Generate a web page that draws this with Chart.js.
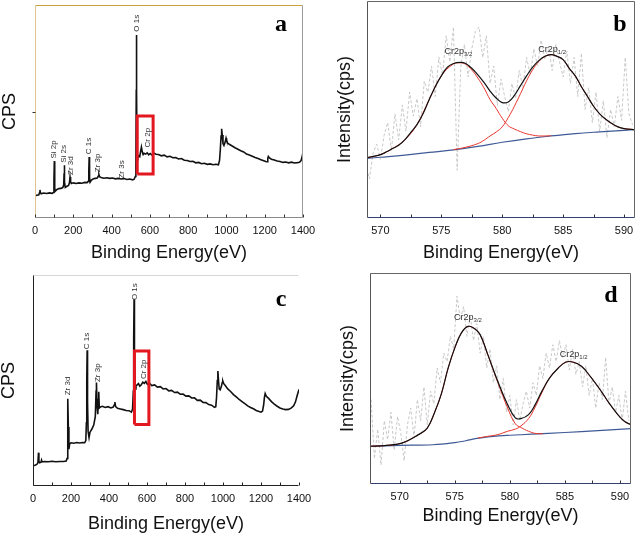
<!DOCTYPE html>
<html>
<head>
<meta charset="utf-8">
<script src="https://cdn.jsdelivr.net/npm/chart.js@4.4.0/dist/chart.umd.min.js"></script>
<style>
body { margin: 0; background: #fff; }
#wrap { position: relative; width: 638px; height: 535px; }
canvas { position: absolute; }
</style>
</head>
<body>
<div id="wrap">
  <canvas id="chartA" width="318" height="268" style="left:0;top:0"></canvas>
  <canvas id="chartB" width="320" height="268" style="left:318px;top:0"></canvas>
  <canvas id="chartC" width="318" height="267" style="left:0;top:268px"></canvas>
  <canvas id="chartD" width="320" height="267" style="left:318px;top:268px"></canvas>
</div>
<script>
// ---- panel a : survey spectrum ----
const surveyA_eV = [
  0, 10, 20, 24, 26, 28, 32, 45, 60, 75,
  90, 97, 99, 101, 103, 106, 115, 125, 135, 145,
  150, 152, 153, 155, 158, 165, 175, 180, 183, 186,
  190, 200, 215, 230, 245, 260, 272, 278, 281, 283,
  285, 288, 295, 305, 315, 325, 332, 334, 337, 345,
  360, 375, 390, 405, 420, 435, 450, 465, 480, 495,
  510, 518, 524, 527, 529, 530, 531, 533, 537, 542,
  547, 552, 556, 560, 565, 570, 578, 586, 594, 602,
  610, 620, 632, 645, 660, 675, 690, 705, 720, 735,
  750, 765, 780, 795, 810, 825, 840, 855, 870, 885,
  900, 915, 930, 945, 958, 964, 968, 972, 975, 978,
  982, 987, 993, 998, 1001, 1006, 1015, 1030, 1045, 1060,
  1075, 1090, 1105, 1120, 1135, 1150, 1165, 1180, 1195, 1205,
  1212, 1216, 1219, 1225, 1235, 1250, 1265, 1280, 1295, 1310,
  1325, 1340, 1355, 1370, 1382, 1390, 1395, 1400
];
const surveyA_cps = [
  10.5, 10.7, 10.9, 12.0, 13.2, 12.0, 11.4, 11.7, 11.5, 11.8,
  11.6, 12.0, 18.0, 26.7, 14.0, 12.6, 13.4, 13.8, 13.9, 14.3,
  15.5, 21.0, 24.8, 17.0, 14.4, 14.8, 15.3, 16.5, 19.2, 17.0,
  16.2, 16.5, 16.2, 16.5, 16.3, 16.7, 16.6, 17.2, 22.0, 28.6,
  19.0, 16.8, 17.8, 18.4, 18.6, 18.8, 19.8, 20.4, 19.4, 19.0,
  18.7, 18.9, 18.6, 18.8, 18.4, 18.6, 18.3, 18.5, 18.1, 18.3,
  17.9, 18.2, 19.5, 23.0, 60.0, 85.9, 60.0, 29.5, 28.6, 29.2,
  28.8, 31.5, 33.3, 31.2, 29.8, 30.4, 30.0, 30.6, 29.7, 30.3,
  29.6, 30.5, 29.9, 29.8, 29.2, 29.5, 28.7, 29.0, 28.3, 28.4,
  27.7, 27.9, 27.1, 27.0, 26.5, 26.6, 25.9, 26.1, 25.5, 25.7,
  25.2, 25.4, 25.0, 25.2, 25.0, 27.0, 32.0, 38.5, 41.9, 39.0,
  34.9, 34.0, 35.5, 37.5, 36.5, 35.2, 34.6, 33.8, 33.0, 32.3,
  31.6, 31.0, 30.0, 29.6, 29.0, 28.4, 27.9, 27.4, 26.9, 26.5,
  26.4, 28.0, 28.9, 28.2, 27.6, 27.2, 26.8, 26.5, 26.1, 26.3,
  25.9, 26.2, 25.8, 26.0, 26.2, 27.0, 28.5, 30.9
];
const boxA_eV = [534, 617, 617, 534, 534];
const boxA_cps = [20.7, 20.7, 47.9, 47.9, 20.7];
const peakNamesA = ['O 1s', 'Si 2p', 'Si 2s', 'Zr 3d', 'C 1s', 'Zr 3p', 'Zr 3s', 'Cr 2p'];
const peakEvA = [530, 96, 148, 186, 283, 330, 452, 590];
const peakCpsA = [91.4, 32.2, 30.1, 24.6, 33.8, 25.9, 22.8, 37.7];

// ---- panel c : survey spectrum ----
const surveyC_eV = [
  0, 10, 20, 26, 29, 31, 35, 42, 45, 48,
  60, 80, 100, 120, 140, 160, 175, 179, 182, 184,
  186, 189, 193, 200, 215, 230, 245, 260, 272, 278,
  281, 283, 285, 287, 290, 295, 300, 310, 320, 328,
  332, 334, 337, 341, 344, 346, 349, 355, 365, 380,
  395, 410, 422, 428, 431, 435, 445, 460, 475, 490,
  505, 518, 524, 528, 530, 532, 534, 537, 542, 548,
  555, 562, 570, 578, 586, 594, 602, 612, 625, 640,
  655, 670, 685, 700, 715, 730, 745, 760, 775, 790,
  805, 820, 835, 850, 865, 880, 895, 910, 925, 940,
  955, 962, 966, 970, 973, 976, 980, 985, 991, 996,
  999, 1004, 1012, 1025, 1040, 1055, 1070, 1085, 1100, 1115,
  1130, 1145, 1160, 1175, 1190, 1200, 1208, 1214, 1218, 1222,
  1228, 1240, 1255, 1270, 1285, 1300, 1315, 1330, 1345, 1360,
  1372, 1382, 1390, 1396, 1400
];
const surveyC_cps = [
  9.5, 9.8, 10.2, 11.0, 15.8, 11.5, 11.0, 11.3, 12.3, 11.4,
  11.6, 11.5, 11.7, 11.5, 11.6, 11.6, 11.8, 13.0, 30.0, 41.4,
  28.0, 17.5, 20.0, 20.5, 20.3, 20.6, 20.4, 20.6, 20.5, 21.5,
  30.0, 50.0, 64.3, 40.0, 26.0, 23.0, 25.5, 27.0, 29.0, 33.0,
  45.0, 49.0, 38.0, 34.0, 41.0, 44.7, 37.0, 37.5, 37.8, 37.2,
  37.6, 37.0, 37.4, 38.5, 39.8, 37.6, 36.8, 36.5, 36.2, 35.8,
  35.7, 35.0, 36.5, 45.0, 70.0, 88.5, 62.0, 46.0, 47.5, 47.9,
  48.5, 47.3, 48.0, 49.2, 48.6, 49.5, 48.2, 48.8, 47.6, 47.9,
  46.9, 47.1, 46.0, 46.2, 45.1, 45.3, 44.3, 44.5, 43.5, 43.6,
  42.6, 42.7, 41.7, 41.8, 40.6, 40.7, 39.6, 39.5, 38.6, 38.3,
  37.3, 37.6, 42.0, 50.0, 54.5, 50.5, 46.0, 45.6, 47.0, 49.0,
  49.8, 48.5, 47.6, 46.0, 44.8, 43.3, 42.2, 41.0, 40.0, 39.0,
  38.0, 37.2, 36.6, 35.8, 35.3, 35.0, 35.5, 38.5, 42.0, 43.8,
  42.5, 41.5, 40.0, 38.8, 37.8, 37.0, 36.5, 36.2, 36.3, 37.0,
  38.0, 40.0, 42.8, 44.5, 45.8
];
const boxC_eV = [534, 610, 610, 534, 534];
const boxC_cps = [29.2, 29.2, 64.0, 64.0, 29.2];
const peakNamesC = ['O 1s', 'C 1s', 'Zr 3p', 'Zr 3d', 'Cr 2p'];
const peakEvC = [536, 284, 339, 184, 583];
const peakCpsC = [92.1, 68.7, 53.7, 47.4, 55.3];

const surveyTicks = [0, 100, 200, 300, 400, 500, 600, 700, 800, 900, 1000, 1100, 1200, 1300, 1400];

// ---- panel b : Cr 2p fit ----
const rawB_eV = [
  568.8, 569.1, 569.4, 569.7, 570.0, 570.3, 570.6, 570.9, 571.2, 571.5,
  571.8, 572.1, 572.4, 572.7, 573.0, 573.3, 573.6, 573.9, 574.2, 574.5,
  574.8, 575.1, 575.4, 575.7, 576.0, 576.3, 576.6, 576.9, 577.2, 577.5,
  577.8, 578.1, 578.4, 578.7, 579.0, 579.3, 579.6, 579.9, 580.2, 580.5,
  580.8, 581.1, 581.4, 581.7, 582.0, 582.3, 582.6, 582.9, 583.2, 583.5,
  583.8, 584.1, 584.4, 584.7, 585.0, 585.3, 585.6, 585.9, 586.2, 586.5,
  586.8, 587.1, 587.4, 587.7, 588.0, 588.3, 588.6, 588.9, 589.2, 589.5,
  589.8, 590.1, 590.4, 590.7
];
const rawB = [
  25, 18, 30, 34, 27, 38, 44, 31, 48, 36,
  52, 40, 58, 47, 55, 42, 63, 58, 70, 56,
  74, 66, 84, 72, 88, 22, 70, 80, 65, 78,
  86, 88, 74, 84, 62, 70, 52, 64, 56, 49,
  62, 55, 68, 60, 74, 66, 78, 70, 82, 73,
  79, 68, 80, 72, 65, 77, 62, 74, 56, 76,
  50, 60, 44, 58, 40, 54, 37, 50, 42, 56,
  45, 74, 48, 43
];
const envB_eV = [568.55, 569.5, 570, 570.5, 571, 571.5, 572, 572.5, 573, 573.5, 574, 574.5, 575, 575.5, 576, 576.6, 577, 577.5, 578, 578.5, 579, 579.5, 580, 580.5, 581, 581.5, 582, 582.5, 583, 583.5, 584, 584.5, 585, 585.5, 586, 586.5, 587, 587.5, 588, 588.5, 589, 589.5, 590, 590.95];
const envB = [27.5, 28.5, 29.2, 30.5, 32, 33.5, 36, 39.5, 43, 48, 54.5, 60.5, 65.5, 69.5, 71.2, 71.7, 71.2, 69, 66, 62.5, 58.5, 55.3, 53.2, 53.5, 56.5, 61, 65.5, 69.5, 72.5, 74.5, 75.3, 74.5, 73, 69, 65.5, 60.5, 56, 51.5, 48, 45.5, 43.5, 42, 41.2, 40.7];
const p32B_eV = [568.55, 570, 571, 572, 573, 574, 575, 576, 576.6, 577, 577.5, 578, 578.5, 579, 579.5, 580, 580.5, 581, 581.5, 582, 582.5, 583, 584];
const p32B = [27.3, 29.2, 32, 36, 43, 54.5, 65.5, 71.0, 71.5, 70.8, 68.2, 64.5, 60, 54.6, 50.5, 46, 42.5, 41, 39.8, 38.8, 38.2, 37.8, 37.9];
const p12B_eV = [576, 577, 578, 578.5, 579, 579.5, 580, 580.5, 581, 581.5, 582, 582.5, 583, 583.5, 584, 584.5, 585, 585.5, 586, 586.5, 587, 587.5, 588, 588.5, 589, 589.5, 590, 590.95];
const p12B = [31.5, 32.6, 34.3, 35.8, 37.8, 39.6, 42, 46.3, 51.5, 57.3, 63.2, 68.3, 72.1, 74.4, 75.3, 74.5, 72.8, 69, 65.3, 60.5, 56, 51.5, 48, 45.5, 43.5, 42, 41.2, 40.7];
const bgB_eV = [568.55, 570, 572, 574, 576, 578, 580, 582, 584, 586, 588, 590, 590.95];
const bgB = [27.3, 28.0, 29.0, 30.2, 31.4, 33.0, 34.9, 36.5, 37.8, 38.9, 39.7, 40.4, 40.7];
const ticksB = [570, 572.5, 575, 577.5, 580, 582.5, 585, 587.5, 590];

// ---- panel d : Cr 2p fit ----
const rawD_eV = [
  567.4, 567.7, 568.0, 568.3, 568.6, 568.9, 569.2, 569.5, 569.8, 570.1,
  570.4, 570.7, 571.0, 571.3, 571.6, 571.9, 572.2, 572.5, 572.8, 573.1,
  573.4, 573.7, 574.0, 574.3, 574.6, 574.9, 575.2, 575.5, 575.8, 576.1,
  576.4, 576.7, 577.0, 577.3, 577.6, 577.9, 578.2, 578.5, 578.8, 579.1,
  579.4, 579.7, 580.0, 580.3, 580.6, 580.9, 581.2, 581.5, 581.8, 582.1,
  582.4, 582.7, 583.0, 583.3, 583.6, 583.9, 584.2, 584.5, 584.8, 585.1,
  585.4, 585.7, 586.0, 586.3, 586.6, 586.9, 587.2, 587.5, 587.8, 588.1,
  588.4, 588.7, 589.0, 589.3, 589.6, 589.9, 590.2, 590.5, 590.8
];
const rawD = [
  40, 12, 26, 9, 30, 21, 34, 16, 32, 24,
  11, 28, 36, 22, 40, 30, 46, 28, 44, 38,
  55, 48, 62, 58, 70, 64, 89, 78, 84, 70,
  80, 68, 76, 62, 70, 55, 64, 48, 56, 40,
  50, 34, 42, 28, 40, 30, 38, 44, 36, 48,
  42, 56, 50, 62, 55, 66, 58, 68, 60, 66,
  54, 64, 52, 58, 46, 56, 42, 50, 36, 48,
  40, 60, 38, 46, 34, 42, 30, 44, 30
];
const envD_eV = [567.3, 568.6, 570.2, 571.7, 572.5, 573.2, 573.8, 574.4, 575.0, 575.6, 576.2, 576.8, 577.3, 578.0, 578.9, 579.8, 580.5, 581.0, 581.7, 582.3, 582.9, 583.6, 584.4, 585.1, 585.7, 586.5, 587.3, 588.3, 589.0, 589.8, 590.4, 591.0];
const envD = [17.9, 18.2, 19.4, 23.4, 26.5, 34.4, 43.1, 55.0, 64.5, 71.6, 74.7, 73.6, 70.8, 61.3, 48.7, 37.6, 31.3, 31.0, 32.9, 37.6, 43.9, 50.2, 55.0, 57.8, 57.8, 55.8, 51.0, 43.9, 38.4, 32.9, 29.7, 28.1];
const p32D_eV = [567.3, 568.6, 570.2, 571.7, 572.5, 573.2, 573.8, 574.4, 575.0, 575.6, 576.2, 576.8, 577.3, 578.0, 578.9, 579.8, 580.5, 581.0, 581.7, 582.3, 583.0];
const p32D = [17.9, 18.2, 19.4, 23.4, 26.5, 34.4, 43.1, 55.0, 64.5, 71.6, 74.7, 73.6, 70.8, 61.2, 48.2, 36.0, 28.5, 26.8, 25.0, 24.0, 23.8];
const p12D_eV = [577.1, 578.0, 578.9, 579.8, 580.5, 581.0, 581.7, 582.3, 582.9, 583.6, 584.4, 585.1, 585.7, 586.5, 587.3, 588.3, 589.0, 589.8, 590.4, 591.0];
const p12D = [21.8, 22.6, 23.4, 25.0, 26.0, 27.5, 31.0, 36.5, 43.2, 50.2, 55.0, 57.8, 57.8, 55.8, 51.0, 43.9, 38.4, 32.9, 29.7, 28.1];
const bgD_eV = [567.3, 570, 573, 575, 576, 577, 578, 579, 580, 582, 585, 588, 591];
const bgD = [17.9, 18.3, 18.6, 19.6, 20.5, 21.6, 22.3, 22.8, 23.1, 23.6, 24.4, 25.3, 26.2];
const ticksD = [570, 572.5, 575, 577.5, 580, 582.5, 585, 587.5, 590];

function pts(xs, ys) {
    return xs.map((x, i) => ({ x: x, y: ys[i] }));
}

// frame lines round the plot area (one colour per side) and inward tick marks
const framePlugin = {
    id: 'frame',
    afterDatasetsDraw(chart, args, o) {
        const ctx = chart.ctx;
        const a = chart.chartArea;
        const l = Math.round(a.left) + 0.5, r = Math.round(a.right) - 0.5;
        const t = Math.round(a.top) + 0.5, b = Math.round(a.bottom) - 0.5;
        ctx.save();
        ctx.lineWidth = 1;
        const side = (c, x1, y1, x2, y2) => {
            if (!c) return;
            ctx.strokeStyle = c;
            ctx.beginPath(); ctx.moveTo(x1, y1); ctx.lineTo(x2, y2); ctx.stroke();
        };
        side(o.top, l, t, r, t);
        side(o.right, r, t, r, b);
        side(o.bottom, l, b, r, b);
        side(o.left, l, t, l, b);
        ctx.strokeStyle = o.tickColor;
        chart.scales.x.ticks.forEach(tk => {
            const px = Math.round(chart.scales.x.getPixelForValue(tk.value)) + 0.5;
            ctx.beginPath(); ctx.moveTo(px, b); ctx.lineTo(px, b - 3); ctx.stroke();
        });
        (o.yTicks || []).forEach(v => {
            const py = Math.round(chart.scales.y.getPixelForValue(v)) + 0.5;
            ctx.beginPath(); ctx.moveTo(l, py); ctx.lineTo(l - 3, py); ctx.stroke();
        });
        ctx.restore();
    }
};

// peak names and the panel letter
const notesPlugin = {
    id: 'notes',
    afterDatasetsDraw(chart, args, o) {
        const ctx = chart.ctx;
        const xs = chart.scales.x, ys = chart.scales.y;
        const a = chart.chartArea;
        ctx.save();
        ctx.fillStyle = '#333';
        ctx.textAlign = 'center';
        ctx.textBaseline = 'middle';
        (o.rotated || []).forEach(n => {
            ctx.save();
            ctx.translate(xs.getPixelForValue(n.x), ys.getPixelForValue(n.y));
            ctx.rotate(-Math.PI / 2);
            ctx.font = '8px "Liberation Sans", Arial, sans-serif';
            ctx.fillText(n.text, 0, 0);
            ctx.restore();
        });
        (o.subbed || []).forEach(n => {
            const px = xs.getPixelForValue(n.x), py = ys.getPixelForValue(n.y);
            ctx.textAlign = 'left';
            ctx.textBaseline = 'alphabetic';
            ctx.font = '9px "Liberation Sans", Arial, sans-serif';
            const w1 = ctx.measureText(n.text).width;
            ctx.font = '6px "Liberation Sans", Arial, sans-serif';
            const w2 = ctx.measureText(n.sub).width;
            const x0 = px - (w1 + w2) / 2;
            ctx.font = '9px "Liberation Sans", Arial, sans-serif';
            ctx.fillText(n.text, x0, py + 3);
            ctx.font = '6px "Liberation Sans", Arial, sans-serif';
            ctx.fillText(n.sub, x0 + w1, py + 5);
        });
        ctx.fillStyle = '#000';
        ctx.font = 'bold 24px "Liberation Serif", "Times New Roman", serif';
        ctx.textAlign = 'center';
        ctx.textBaseline = 'middle';
        ctx.fillText(o.letter, a.right - o.letterDx, a.top + o.letterDy);
        ctx.restore();
    }
};

function makeChart(id, cfg) {
    const tickFont = { family: '"Liberation Sans", Arial, sans-serif', size: 11 };
    const titleFont = { family: '"Liberation Sans", Arial, sans-serif', size: 18 };
    return new Chart(document.getElementById(id), {
        type: 'line',
        data: { datasets: cfg.datasets },
        options: {
            responsive: false,
            animation: false,
            devicePixelRatio: 1,
            layout: { padding: cfg.padding },
            elements: { point: { radius: 0 } },
            plugins: {
                legend: { display: false },
                tooltip: { enabled: false },
                frame: cfg.frame,
                notes: cfg.notes
            },
            scales: {
                x: {
                    type: 'linear',
                    min: cfg.xMin,
                    max: cfg.xMax,
                    afterBuildTicks: s => { s.ticks = cfg.ticks.map(v => ({ value: v })); },
                    afterFit: s => { s.height = cfg.xHeight; s.paddingLeft = 0; s.paddingRight = 0; },
                    border: { display: false },
                    grid: { display: false, drawTicks: false },
                    ticks: {
                        padding: 6,
                        color: '#111',
                        font: tickFont,
                        maxRotation: 0,
                        autoSkip: false,
                        callback: v => (v % cfg.labelStep === 0 ? String(v) : '')
                    },
                    title: {
                        display: true,
                        text: 'Binding Energy(eV)',
                        color: '#111',
                        font: titleFont,
                        padding: { top: 0, bottom: cfg.xTitlePad }
                    }
                },
                y: {
                    min: 0,
                    max: 100,
                    afterFit: s => { s.width = cfg.yWidth; s.paddingTop = 0; s.paddingBottom = 0; },
                    border: { display: false },
                    grid: { display: false, drawTicks: false },
                    ticks: { display: false },
                    title: {
                        display: true,
                        text: cfg.yTitle,
                        color: '#111',
                        font: titleFont,
                        padding: { top: cfg.yTitlePad, bottom: 0 }
                    }
                }
            }
        },
        plugins: [framePlugin, notesPlugin]
    });
}

function surveySets(xs, ys, bx, by) {
    return [
        { data: pts(bx, by), borderColor: '#e3171f', borderWidth: 3, tension: 0 },
        { data: pts(xs, ys), borderColor: '#111', borderWidth: 1.6, tension: 0 }
    ];
}

function fitSets(env, p32, p12, bg, raw) {
    return [
        { data: env, borderColor: '#111', borderWidth: 1.2, tension: 0.4 },
        { data: p32, borderColor: '#e8352d', borderWidth: 1, tension: 0.4 },
        { data: p12, borderColor: '#e8352d', borderWidth: 1, tension: 0.4 },
        { data: bg, borderColor: '#3f5a96', borderWidth: 1.2, tension: 0.4 },
        { data: raw, borderColor: '#c8c8c8', borderWidth: 1, borderDash: [3, 2], tension: 0 }
    ];
}

makeChart('chartA', {
    datasets: surveySets(surveyA_eV, surveyA_cps, boxA_eV, boxA_cps),
    padding: { left: 0, top: 5, right: 15, bottom: 0 },
    xMin: 0, xMax: 1400, ticks: surveyTicks, labelStep: 200,
    xHeight: 50, xTitlePad: 4,
    yWidth: 35, yTitle: 'CPS', yTitlePad: -1,
    frame: { top: '#c9a33c', right: '#9a9a9a', bottom: '#8a8a8a', left: '#dcc48e', tickColor: '#333', yTicks: [50] },
    notes: {
        rotated: peakNamesA.map((t, i) => ({ text: t, x: peakEvA[i], y: peakCpsA[i] })),
        letter: 'a', letterDx: 22, letterDy: 20
    }
});

makeChart('chartB', {
    datasets: fitSets(pts(envB_eV, envB), pts(p32B_eV, p32B), pts(p12B_eV, p12B), pts(bgB_eV, bgB), pts(rawB_eV, rawB)),
    padding: { left: 0, top: 1, right: 3, bottom: 0 },
    xMin: 568.9, xMax: 590.9, ticks: ticksB, labelStep: 5,
    xHeight: 50, xTitlePad: 4,
    yWidth: 49, yTitle: 'Intensity(cps)', yTitlePad: 16,
    frame: { top: '#666', right: '#666', bottom: '#34406e', left: '#555', tickColor: '#333' },
    notes: {
        subbed: [
            { text: 'Cr2p', sub: '3/2', x: 576.4, y: 76.8 },
            { text: 'Cr2p', sub: '1/2', x: 584.1, y: 77.9 }
        ],
        letter: 'b', letterDx: 15, letterDy: 24
    }
});

makeChart('chartC', {
    datasets: surveySets(surveyC_eV, surveyC_cps, boxC_eV, boxC_cps),
    padding: { left: 0, top: 7, right: 19, bottom: 0 },
    xMin: 0, xMax: 1400, ticks: surveyTicks, labelStep: 200,
    xHeight: 49, xTitlePad: 0,
    yWidth: 33, yTitle: 'CPS', yTitlePad: -2,
    frame: { top: '#d8d8d8', right: null, bottom: '#222', left: '#222', tickColor: '#222' },
    notes: {
        rotated: peakNamesC.map((t, i) => ({ text: t, x: peakEvC[i], y: peakCpsC[i] })),
        letter: 'c', letterDx: 18, letterDy: 25
    }
});

makeChart('chartD', {
    datasets: fitSets(pts(envD_eV, envD), pts(p32D_eV, p32D), pts(p12D_eV, p12D), pts(bgD_eV, bgD), pts(rawD_eV, rawD)),
    padding: { left: 0, top: 5, right: 7, bottom: 0 },
    xMin: 567.3, xMax: 591.0, ticks: ticksD, labelStep: 5,
    xHeight: 51, xTitlePad: 8,
    yWidth: 52, yTitle: 'Intensity(cps)', yTitlePad: 19,
    frame: { top: '#666', right: '#666', bottom: '#34406e', left: '#555', tickColor: '#333' },
    notes: {
        subbed: [
            { text: 'Cr2p', sub: '3/2', x: 576.2, y: 79 },
            { text: 'Cr2p', sub: '1/2', x: 585.8, y: 61.6 }
        ],
        letter: 'd', letterDx: 20, letterDy: 23
    }
});
</script>
</body>
</html>
